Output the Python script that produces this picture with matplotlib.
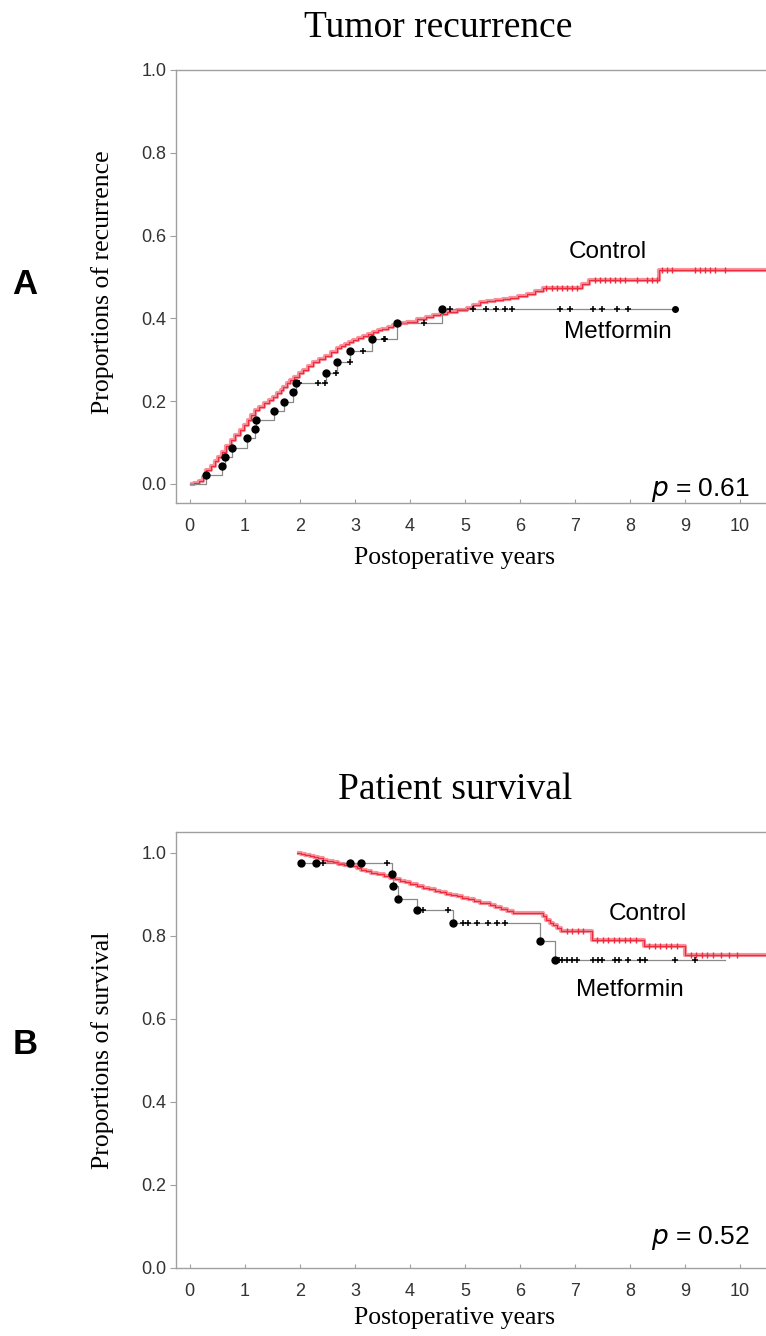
import numpy as np
import matplotlib
matplotlib.use("Agg")
import matplotlib.pyplot as plt

# ---------------- data: tumor recurrence ----------------
ctrl_rec_t = [0, 0.08, 0.16, 0.24, 0.30, 0.38, 0.45, 0.52, 0.58, 0.66, 0.75, 0.83, 0.91, 0.98,
              1.05, 1.12, 1.18, 1.26, 1.35, 1.44, 1.52, 1.58, 1.65, 1.70, 1.76, 1.83, 1.90,
              1.98, 2.06, 2.15, 2.24, 2.35, 2.45, 2.56, 2.67, 2.75, 2.82, 2.90, 2.97, 3.06,
              3.15, 3.24, 3.33, 3.42, 3.50, 3.60, 3.70, 3.82, 3.94, 4.12, 4.30, 4.42, 4.55,
              4.67, 4.85, 5.03, 5.15, 5.27, 5.40, 5.55, 5.70, 5.82, 5.97, 6.12, 6.27, 6.42,
              7.12, 7.25, 8.52]
ctrl_rec_v = [0, 0.003, 0.008, 0.018, 0.034, 0.044, 0.055, 0.066, 0.078, 0.092, 0.105, 0.118,
              0.130, 0.143, 0.155, 0.167, 0.179, 0.187, 0.195, 0.203, 0.211, 0.219, 0.227,
              0.235, 0.243, 0.251, 0.259, 0.267, 0.275, 0.285, 0.295, 0.302, 0.308, 0.318,
              0.328, 0.333, 0.338, 0.343, 0.348, 0.353, 0.358, 0.363, 0.368, 0.371, 0.374,
              0.379, 0.384, 0.388, 0.392, 0.398, 0.404, 0.407, 0.410, 0.416, 0.420, 0.424,
              0.432, 0.440, 0.443, 0.445, 0.447, 0.449, 0.454, 0.459, 0.466, 0.473, 0.483,
              0.493, 0.517]
ctrl_rec_end = 10.8
ctrl_rec_cens = [6.48, 6.58, 6.67, 6.76, 6.85, 6.94, 7.03, 7.36, 7.45, 7.55, 7.64, 7.73, 7.82,
                 7.91, 8.12, 8.30, 8.39, 8.48, 8.58, 8.67, 8.76, 9.18, 9.27, 9.36, 9.45, 9.55, 9.73]

met_rec_t = [0, 0.30, 0.58, 0.64, 0.76, 1.04, 1.18, 1.21, 1.53, 1.71, 1.88, 1.93, 2.47, 2.67,
             2.92, 3.31, 3.76, 4.59]
met_rec_v = [0, 0.022, 0.044, 0.066, 0.088, 0.110, 0.132, 0.155, 0.177, 0.199, 0.221, 0.243,
             0.269, 0.295, 0.322, 0.350, 0.388, 0.423]
met_rec_end = 8.82
met_rec_cens = [1.98, 2.33, 2.45, 2.65, 2.91, 3.14, 3.52, 3.55, 4.26, 4.73, 5.14, 5.38, 5.56,
                5.73, 5.85, 6.73, 6.91, 7.33, 7.49, 7.76, 7.97]

# ---------------- data: patient survival ----------------
ctrl_sur_t = [1.94, 2.02, 2.1, 2.18, 2.25, 2.33, 2.42, 2.5, 2.6, 2.7, 2.8, 2.9, 3.03, 3.12,
              3.2, 3.3, 3.4, 3.52, 3.64, 3.73, 3.82, 3.91, 4.0, 4.12, 4.24, 4.35, 4.45, 4.55,
              4.65, 4.75, 4.85, 4.95, 5.05, 5.16, 5.27, 5.36, 5.45, 5.55, 5.65, 5.77, 5.88,
              6.42, 6.48, 6.54, 6.6, 6.67, 6.75, 7.3, 8.25, 9.0]
ctrl_sur_v = [1.0, 0.998, 0.995, 0.992, 0.99, 0.987, 0.983, 0.980, 0.977, 0.974, 0.970, 0.967,
              0.963, 0.959, 0.955, 0.952, 0.948, 0.944, 0.939, 0.936, 0.933, 0.929, 0.925,
              0.920, 0.915, 0.912, 0.908, 0.905, 0.901, 0.898, 0.895, 0.892, 0.888, 0.884,
              0.880, 0.878, 0.875, 0.870, 0.864, 0.860, 0.855, 0.847, 0.839, 0.832, 0.825,
              0.819, 0.811, 0.790, 0.776, 0.753]
ctrl_sur_end = 10.8
ctrl_sur_cens = [6.85, 6.95, 7.05, 7.15, 7.4, 7.5, 7.6, 7.7, 7.8, 7.9, 8.0, 8.1, 8.35, 8.45,
                 8.55, 8.65, 8.75, 8.85, 9.1, 9.2, 9.3, 9.4, 9.5, 9.65, 9.8, 9.95]

met_sur_t = [2.0, 3.68, 3.70, 3.79, 4.12, 4.79, 6.36, 6.64]
met_sur_v = [0.976, 0.949, 0.919, 0.888, 0.863, 0.831, 0.787, 0.741]
met_sur_dots = [2.03, 2.30, 2.91, 3.12]
met_sur_end = 9.73
met_sur_cens = [2.42, 3.58, 4.24, 4.70, 4.97, 5.06, 5.21, 5.42, 5.58, 5.73, 6.70, 6.76, 6.85,
                6.94, 7.03, 7.33, 7.42, 7.49, 7.73, 7.79, 7.97, 8.18, 8.27, 8.82, 9.18]

xticks = list(range(0, 11))
rec_yticks = [0.0, 0.2, 0.4, 0.6, 0.8, 1.0]
sur_yticks = [0.0, 0.2, 0.4, 0.6, 0.8, 1.0]

RED = "#ee2a3c"
PINK = "#f5808c"
GRAY = "#8a8a8a"
SPINE = "#a0a0a0"
SERIF = "Liberation Serif"
SANS = "Liberation Sans"
TICK_FS = 13
LAB_FS = 18.5
TXT_FS = 17.5
P_FS = 19


def step_value(ts, vs, x):
    i = np.searchsorted(np.asarray(ts), x, side="right") - 1
    i = np.clip(i, 0, len(vs) - 1)
    return np.asarray(vs)[i]


def draw_control(ax, ts, vs, end, cens):
    tx = list(ts) + [end]
    vy = list(vs) + [vs[-1]]
    ax.step(tx, vy, where="post", color=PINK, lw=3.0, alpha=0.85, zorder=2,
            solid_capstyle="butt")
    ax.step(tx, vy, where="post", color=RED, lw=0.9, zorder=3)
    cy = step_value(ts, vs, np.array(cens))
    ax.plot(cens, cy, ls="none", marker="|", ms=4, mew=1.0, color=RED, zorder=3)


def draw_metformin(ax, ts, vs, end, cens, dots=None, end_dot=True):
    tx = list(ts) + [end]
    vy = list(vs) + [vs[-1]]
    ax.step(tx, vy, where="post", color=GRAY, lw=0.9, zorder=4)
    ev_t = list(ts[1:]) if dots is None else list(dots) + list(ts[1:])
    ev_v = list(step_value(ts, vs, np.array(ev_t)))
    ax.plot(ev_t, ev_v, ls="none", marker="o", ms=5, color="black", zorder=5)
    cy = step_value(ts, vs, np.array(cens))
    ax.plot(cens, cy, ls="none", marker="+", ms=5, mew=1.1, color="black", zorder=5)
    if end_dot:
        ax.plot([end], [vs[-1]], ls="none", marker="o", ms=4, color="black", zorder=5)


def style_axes(ax, yticks):
    for s in ax.spines.values():
        s.set_color(SPINE)
        s.set_linewidth(1.0)
    ax.set_xticks(xticks)
    ax.set_xticklabels([str(t) for t in xticks], fontname=SANS, fontsize=TICK_FS, color="#333333")
    ax.set_yticks(yticks)
    ax.set_yticklabels([f"{t:.1f}" for t in yticks], fontname=SANS, fontsize=TICK_FS,
                       color="#333333")
    ax.tick_params(axis="x", direction="in", length=3, color=SPINE, pad=11)
    ax.tick_params(axis="y", direction="out", length=4, color=SPINE, pad=3)


fig = plt.figure(figsize=(7.66, 13.36), dpi=100)

x_left = -0.25
x_right = 10.76
ax_l = 176 / 766
ax_w = (782 - 176) / 766

# ---- Panel A ----
ax1 = fig.add_axes([ax_l, 1 - 503 / 1336, ax_w, (503 - 70) / 1336])
draw_control(ax1, ctrl_rec_t, ctrl_rec_v, ctrl_rec_end, ctrl_rec_cens)
draw_metformin(ax1, met_rec_t, met_rec_v, met_rec_end, met_rec_cens)
ax1.set_xlim(x_left, x_right)
ax1.set_ylim(-0.046, 1.0)
style_axes(ax1, rec_yticks)
ax1.text(7.6, 0.560, "Control", fontname=SANS, fontsize=TXT_FS, ha="center", va="center")
ax1.text(7.78, 0.367, "Metformin", fontname=SANS, fontsize=TXT_FS, ha="center", va="center")
ax1.text(10.18, -0.015, r"$\it{p}$ = 0.61", fontname=SANS, fontsize=P_FS, ha="right",
         va="center")

# ---- Panel B ----
ax2 = fig.add_axes([ax_l, 1 - 1268 / 1336, ax_w, (1268 - 832) / 1336])
draw_control(ax2, ctrl_sur_t, ctrl_sur_v, ctrl_sur_end, ctrl_sur_cens)
draw_metformin(ax2, met_sur_t, met_sur_v, met_sur_end, met_sur_cens, dots=met_sur_dots,
               end_dot=False)
ax2.set_xlim(x_left, x_right)
ax2.set_ylim(0.0, 1.05)
style_axes(ax2, sur_yticks)
ax2.text(8.33, 0.853, "Control", fontname=SANS, fontsize=TXT_FS, ha="center", va="center")
ax2.text(8.0, 0.670, "Metformin", fontname=SANS, fontsize=TXT_FS, ha="center", va="center")
ax2.text(10.18, 0.072, r"$\it{p}$ = 0.52", fontname=SANS, fontsize=P_FS, ha="right",
         va="center")

# ---- titles / labels ----
fig.text(438 / 766, 1 - 28 / 1336, "Tumor recurrence", fontname=SERIF, fontsize=27,
         ha="center", va="center")
fig.text(455 / 766, 1 - 790 / 1336, "Patient survival", fontname=SERIF, fontsize=27,
         ha="center", va="center")
fig.text(455 / 766, 1 - 558 / 1336, "Postoperative years", fontname=SERIF, fontsize=LAB_FS,
         ha="center", va="center")
fig.text(455 / 766, 1 - 1318 / 1336, "Postoperative years", fontname=SERIF, fontsize=LAB_FS,
         ha="center", va="center")
fig.text(103 / 766, 1 - 282 / 1336, "Proportions of recurrence", fontname=SERIF,
         fontsize=LAB_FS, rotation=90, ha="center", va="center")
fig.text(103 / 766, 1 - 1050 / 1336, "Proportions of survival", fontname=SERIF,
         fontsize=LAB_FS, rotation=90, ha="center", va="center")
fig.text(25 / 766, 1 - 285 / 1336, "A", fontname=SANS, fontweight="bold", fontsize=25,
         ha="center", va="center")
fig.text(25 / 766, 1 - 1045 / 1336, "B", fontname=SANS, fontweight="bold", fontsize=25,
         ha="center", va="center")

fig.savefig("out.png", dpi=100)
